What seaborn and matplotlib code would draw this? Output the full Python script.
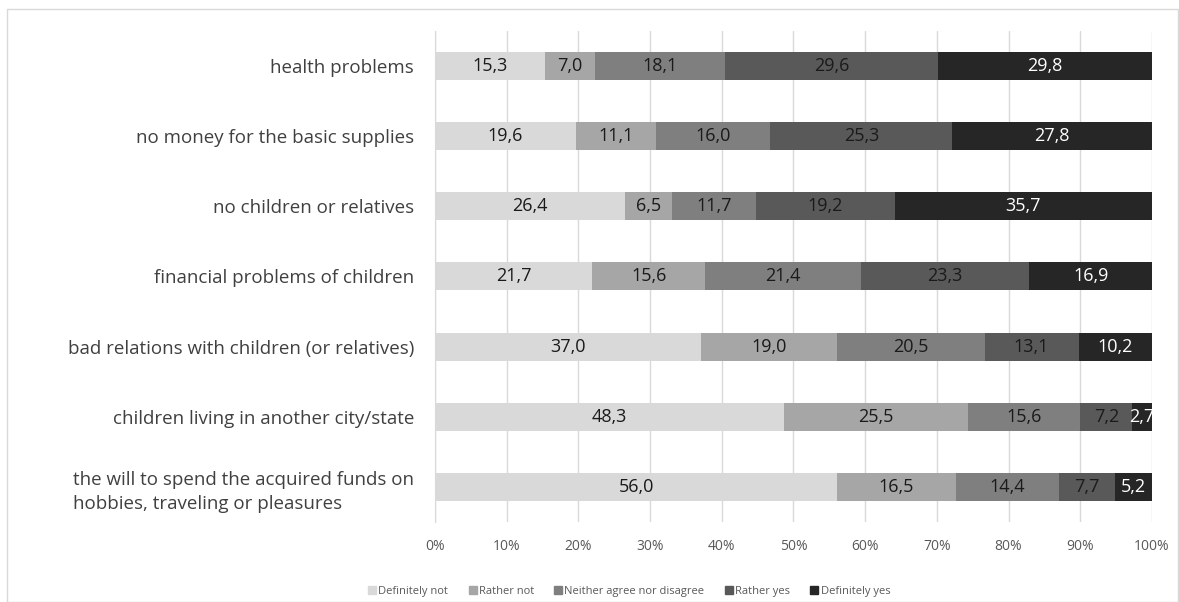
import pandas as pd
import numpy as np
import seaborn as sns
import matplotlib.pyplot as plt
from matplotlib.lines import Line2D
from matplotlib.patches import Rectangle

reasons = ['health problems',
           'no money for the basic supplies',
           'no children or relatives',
           'financial problems of children',
           'bad relations with children (or relatives)',
           'children living in another city/state',
           'the will to spend the acquired funds on\nhobbies, traveling or pleasures']
answers = ['Definitely not', 'Rather not', 'Neither agree nor disagree', 'Rather yes', 'Definitely yes']

definitely_not = [15.3, 19.6, 26.4, 21.7, 37.0, 48.3, 56.0]
rather_not = [7.0, 11.1, 6.5, 15.6, 19.0, 25.5, 16.5]
neither = [18.1, 16.0, 11.7, 21.4, 20.5, 15.6, 14.4]
rather_yes = [29.6, 25.3, 19.2, 23.3, 13.1, 7.2, 7.7]
definitely_yes = [29.8, 27.8, 35.7, 16.9, 10.2, 2.7, 5.2]

colors = ['#d9d9d9', '#a6a6a6', '#7f7f7f', '#595959', '#262626']
text_colors = ['#1a1a1a', '#1a1a1a', '#1a1a1a', '#1a1a1a', 'white']

vals = pd.DataFrame(dict(zip(answers, [definitely_not, rather_not, neither, rather_yes, definitely_yes])),
                    index=reasons)
# excel 100% stacked: normalise each row
share = vals.div(vals.sum(axis=1), axis=0) * 100
cum = share.cumsum(axis=1)

sns.set_style('white')
plt.rcParams['font.family'] = ['Open Sans', 'DejaVu Sans']

fig = plt.figure(figsize=(11.79, 6.02), dpi=100)
ax = fig.add_axes([0.369, 0.133, 0.608, 0.8155])
fig.patches.append(Rectangle((7 / 1179, 0), 1 - 8 / 1179, 1 - 9 / 602, transform=fig.transFigure,
                             fill=False, edgecolor='#d9d9d9', linewidth=1))

# draw cumulative bars from the last (widest) to the first
for i in reversed(range(len(answers))):
    df = pd.DataFrame({'reason': reasons, 'x': cum[answers[i]].values})
    sns.barplot(data=df, x='x', y='reason', color=colors[i], width=0.4,
                saturation=1, ax=ax, zorder=2, linewidth=0)

for i, a in enumerate(answers):
    centers = cum[a] - share[a] / 2
    for j, r in enumerate(reasons):
        ax.text(centers[r], j, f'{vals.loc[r, a]:.1f}'.replace('.', ','), ha='center', va='center',
                fontsize=13, color=text_colors[i], zorder=3, clip_on=True)

ax.set_xlim(0, 100)
ax.set_xticks(np.arange(0, 101, 10))
ax.set_xticklabels([f'{t}%' for t in range(0, 101, 10)], fontsize=10, color='#595959')
ax.xaxis.grid(True, color='#d9d9d9', linewidth=1, zorder=0)
ax.set_axisbelow(True)
ax.set_xlabel('')
ax.set_ylabel('')
ax.tick_params(axis='y', labelsize=13.5, labelcolor='#404040', length=0, pad=15)
ax.tick_params(axis='x', length=0, pad=12)
for lab in ax.get_yticklabels():
    lab.set_multialignment('left')
    lab.set_linespacing(1.45)
for s in ['top', 'right', 'bottom']:
    ax.spines[s].set_visible(False)
ax.spines['left'].set_color('#d9d9d9')

handles = [Line2D([], [], marker='s', linestyle='', markersize=6, markerfacecolor=c,
                  markeredgecolor=c) for c in colors]
fig.legend(handles, answers, loc='center', bbox_to_anchor=(0.533, 0.018), ncol=5, frameon=False,
           fontsize=8, labelcolor='#595959', handletextpad=0.05, columnspacing=1.7,
           handlelength=1.0)

plt.savefig('out.png', dpi=100)
